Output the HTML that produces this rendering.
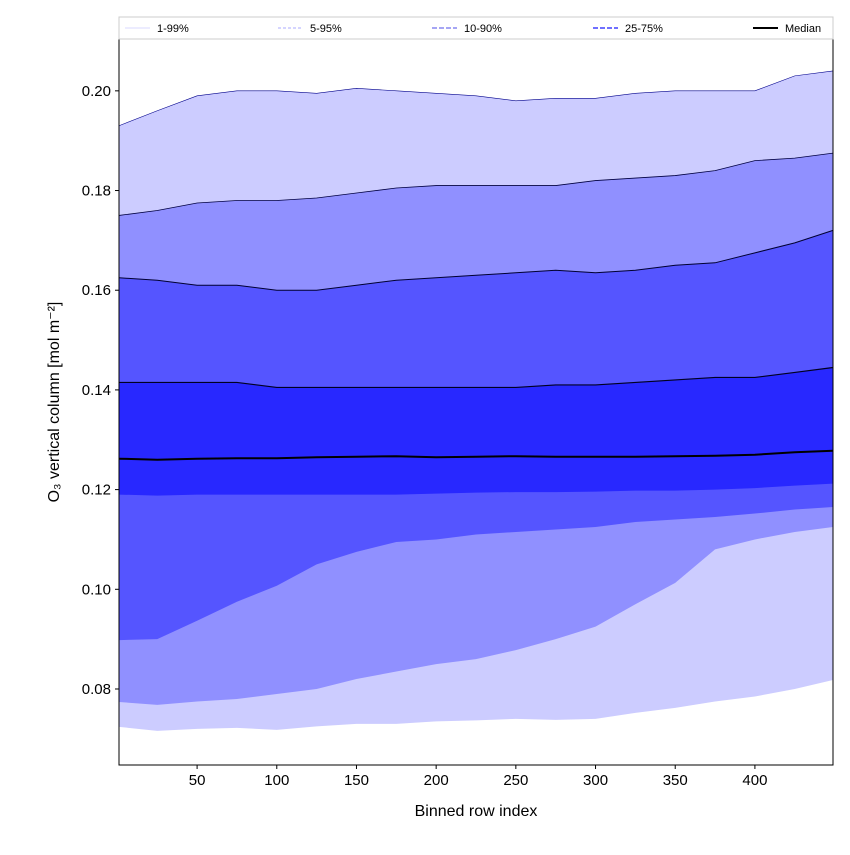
<!DOCTYPE html>
<html><head><meta charset="utf-8"><style>
body{margin:0;background:#fff;}
svg text{font-family:"Liberation Sans","DejaVu Sans",sans-serif;}
</style></head><body>
<svg id="chart" width="850" height="850" xmlns="http://www.w3.org/2000/svg">
<rect width="850" height="850" fill="#fff"/>
<g id="bands"></g>
<g id="axes"></g>
<g id="legend"></g>
</svg>
<script>
const rows = [1,25,50,75,100,125,150,175,200,225,250,275,300,325,350,375,400,425,449];
const p99 = [0.193,0.196,0.199,0.200,0.200,0.1995,0.2005,0.200,0.1995,0.199,0.198,0.1985,0.1985,0.1995,0.200,0.200,0.200,0.203,0.204];
const p95 = [0.175,0.176,0.1775,0.178,0.178,0.1785,0.1795,0.1805,0.181,0.181,0.181,0.181,0.182,0.1825,0.183,0.184,0.186,0.1865,0.1875];
const p90 = [0.1625,0.162,0.161,0.161,0.160,0.160,0.161,0.162,0.1625,0.163,0.1635,0.164,0.1635,0.164,0.165,0.1655,0.1675,0.1695,0.172];
const p75 = [0.1415,0.1415,0.1415,0.1415,0.1405,0.1405,0.1405,0.1405,0.1405,0.1405,0.1405,0.141,0.141,0.1415,0.142,0.1425,0.1425,0.1435,0.1445];
const median = [0.1262,0.126,0.1262,0.1263,0.1263,0.1265,0.1266,0.1267,0.1265,0.1266,0.1267,0.1266,0.1266,0.1266,0.1267,0.1268,0.127,0.1275,0.1278];
const p25 = [0.119,0.1188,0.119,0.119,0.119,0.119,0.119,0.119,0.1192,0.1194,0.1195,0.1195,0.1196,0.1198,0.1198,0.120,0.1203,0.1208,0.1212];
const p10 = [0.0898,0.090,0.0937,0.0975,0.1007,0.105,0.1075,0.1095,0.110,0.111,0.1115,0.112,0.1125,0.1135,0.114,0.1145,0.1152,0.116,0.1165];
const p5 = [0.0774,0.0768,0.0775,0.078,0.079,0.080,0.082,0.0835,0.085,0.086,0.0878,0.090,0.0925,0.097,0.1013,0.108,0.110,0.1115,0.1125];
const p1 = [0.0724,0.0716,0.072,0.0722,0.0718,0.0725,0.073,0.073,0.0735,0.0737,0.074,0.0738,0.074,0.0752,0.0762,0.0775,0.0785,0.080,0.0818];
const xTicks = [50,100,150,200,250,300,350,400];
const yTicks = [0.08,0.10,0.12,0.14,0.16,0.18,0.20];
const legendLabels = ["1-99%","5-95%","10-90%","25-75%","Median"];

const L=119,R=833,T=39,B=765;
const xMin=1,xMax=449,yMin=0.06475,yMax=0.2104;
const xs=v=>L+(v-xMin)/(xMax-xMin)*(R-L);
const ys=v=>B-(v-yMin)/(yMax-yMin)*(B-T);
const NS="http://www.w3.org/2000/svg";
function mk(tag,attrs,parent){const e=document.createElementNS(NS,tag);for(const k in attrs)e.setAttribute(k,attrs[k]);parent.appendChild(e);return e;}
const bands=document.getElementById('bands');
function band(lo,hi,fill,name){
  let d='M'+rows.map((r,i)=>xs(r)+','+ys(hi[i])).join('L');
  for(let i=rows.length-1;i>=0;i--)d+='L'+xs(rows[i])+','+ys(lo[i]);
  const p=mk('path',{d:d+'Z',fill:fill},bands);
  
  
}
function line(arr,stroke,w,name){
  const p=mk('path',{d:'M'+rows.map((r,i)=>xs(r)+','+ys(arr[i])).join('L'),fill:'none',stroke:stroke,'stroke-width':w},bands);
  
  
}
band(p1,p99,'#ccccff','band-1-99');
band(p5,p95,'#9090ff','band-5-95');
band(p10,p90,'#5555ff','band-10-90');
band(p25,p75,'#2828ff','band-25-75');
line(p99,'#00008b',0.6,'line-p99');
line(p95,'#000040',0.8,'line-p95');
line(p90,'#000030',1,'line-p90');
line(p75,'#000020',1.2,'line-p75');
line(median,'#000',2,'median-line');

const ax=document.getElementById('axes');
const fr=mk('rect',{x:L,y:T,width:R-L,height:B-T,fill:'none',stroke:'#000','stroke-width':1},ax);

xTicks.forEach(t=>{
  mk('line',{x1:xs(t),x2:xs(t),y1:B,y2:B+4,stroke:'#000'},ax);
  const tx=mk('text',{x:xs(t),y:B+20,'text-anchor':'middle','font-size':15},ax);
  tx.textContent=t;
  
});
yTicks.forEach(t=>{
  mk('line',{x1:L-4,x2:L,y1:ys(t),y2:ys(t),stroke:'#000'},ax);
  const tx=mk('text',{x:L-8,y:ys(t)+5,'text-anchor':'end','font-size':15},ax);
  tx.textContent=t.toFixed(2);
  
});
const xl=mk('text',{x:476,y:816,'text-anchor':'middle','font-size':16},ax);
xl.textContent='Binned row index';

const yl=mk('text',{x:0,y:0,'text-anchor':'middle','font-size':16,transform:'translate(59,402) rotate(-90)'},ax);
yl.textContent='O₃ vertical column [mol m⁻²]';


const lg=document.getElementById('legend');
const lb=mk('rect',{x:L,y:17,width:R-L,height:22,fill:'#fff',stroke:'#ccc'},lg);

const lx=[125,278,432,593,753];
const lstyle=[['#ccccff',0.8,''],['#9090ff',0.8,'3,2'],['#7070ee',1.2,'5,2'],['#4040ff',1.5,'5,2'],['#000',2,'']];
legendLabels.forEach((s,i)=>{
  const g=mk('g',{},lg);
  
  mk('line',{x1:lx[i],x2:lx[i]+25,y1:28,y2:28,stroke:lstyle[i][0],'stroke-width':lstyle[i][1],'stroke-dasharray':lstyle[i][2]},g);
  const t=mk('text',{x:lx[i]+32,y:32,'font-size':11},g);
  t.textContent=s;
});
</script>
</body></html>
